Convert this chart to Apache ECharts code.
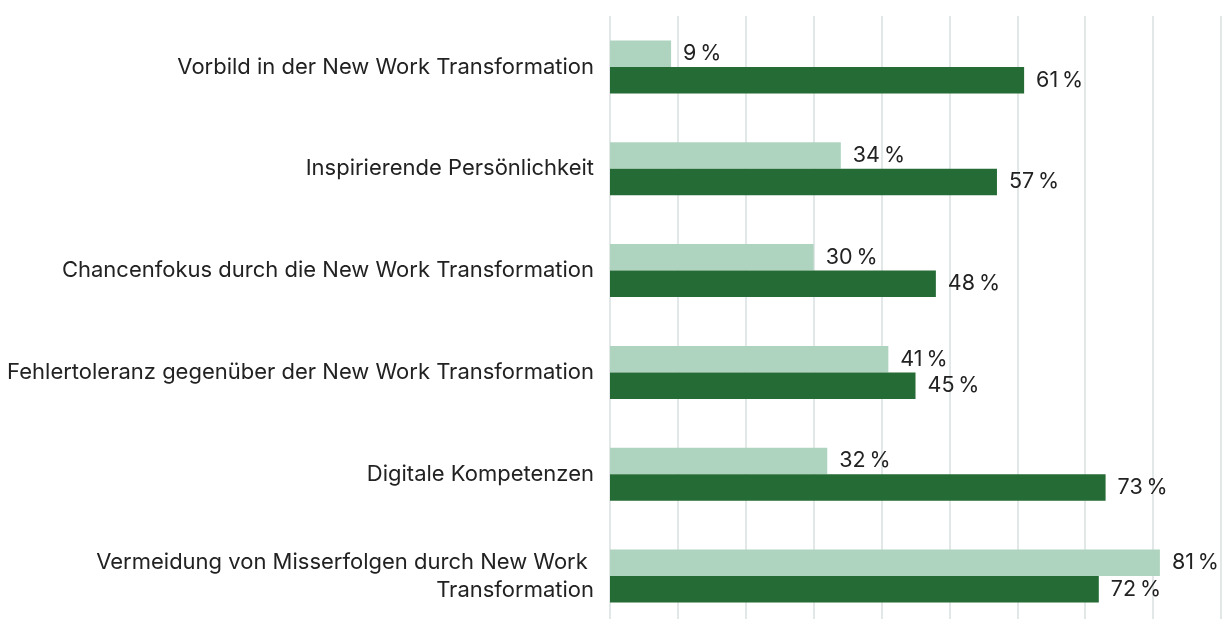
<!DOCTYPE html>
<html>
<head>
<meta charset="utf-8">
<script src="https://cdn.jsdelivr.net/npm/echarts@6/dist/echarts.min.js"></script>
<style>
  html, body { margin: 0; padding: 0; background: #fff; }
  #chart { width: 1222px; height: 619px; }
</style>
</head>
<body>
<div id="chart"></div>
<script>
// Kategorien (von oben nach unten)
let categories = [
  "Vorbild in der New Work Transformation",
  "Inspirierende Persönlichkeit",
  "Chancenfokus durch die New Work Transformation",
  "Fehlertoleranz gegenüber der New Work Transformation",
  "Digitale Kompetenzen",
  "Vermeidung von Misserfolgen durch New Work Transformation"
];
let lightValues = [9, 34, 30, 41, 32, 81];
let darkValues = [61, 57, 48, 45, 73, 72];

let fontFamily = "Inter, 'Noto Sans', sans-serif";

let valueLabel = {
  show: true,
  position: "right",
  distance: 12,
  color: "#222",
  fontSize: 21.5,
  fontFamily: fontFamily,
  formatter: p => p.value + "\u2009%"
};

let chart = echarts.init(document.getElementById("chart"), null, { renderer: "canvas" });

chart.setOption({
  animation: false,
  grid: {
    left: 610,
    right: 1,
    top: 16,
    height: 611,
    outerBoundsMode: "none",
    containLabel: false
  },
  xAxis: {
    type: "value",
    min: 0,
    max: 90,
    interval: 10,
    axisLabel: { show: false },
    axisLine: { show: false },
    axisTick: { show: false },
    splitLine: { lineStyle: { color: "#e2e8e7", width: 2 } }
  },
  yAxis: {
    type: "category",
    data: categories,
    inverse: true,
    axisLine: { show: false },
    axisTick: { show: false },
    axisLabel: {
      margin: 16,
      color: "#222",
      fontSize: 22,
      fontFamily: fontFamily,
      width: 608,
      overflow: "break",
      align: "right",
      lineHeight: 28
    }
  },
  series: [
    {
      type: "bar",
      data: lightValues,
      barWidth: 26.5,
      barGap: "0%",
      itemStyle: { color: "#aed4bf" },
      label: valueLabel
    },
    {
      type: "bar",
      data: darkValues,
      barWidth: 26.5,
      barGap: "0%",
      itemStyle: { color: "#256b35" },
      label: valueLabel
    }
  ]
});
</script>
</body>
</html>
